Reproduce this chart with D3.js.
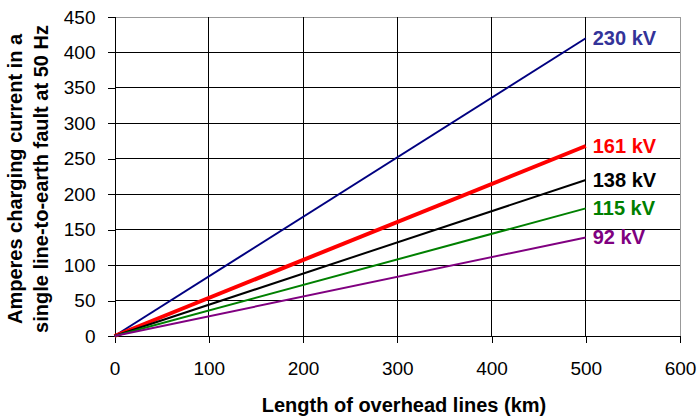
<!DOCTYPE html>
<html><head><meta charset="utf-8">
<script src="https://cdn.jsdelivr.net/npm/d3@7"></script>
<style>body{margin:0;background:#fff}svg{display:block}text{font-family:"Liberation Sans",Arial,sans-serif}</style>
</head><body><svg id="c" width="699" height="417"></svg>
<script>
const seriesNames = ["230 kV", "161 kV", "138 kV", "115 kV", "92 kV"];
const lengths = [0, 500];
const values230 = [0, 420];
const values161 = [0, 268];
const values138 = [0, 220];
const values115 = [0, 180];
const values92 = [0, 139];
const colors = ["#000080", "#FF0000", "#000000", "#008000", "#800080"];
const labelColors = ["#333399", "#FF0000", "#000000", "#008000", "#800080"];
const widths = [2, 4, 2, 2, 2];
const xTicks = [0, 100, 200, 300, 400, 500, 600];
const yTicks = [0, 50, 100, 150, 200, 250, 300, 350, 400, 450];
const allValues = [values230, values161, values138, values115, values92];

const svg = d3.select("#c");
const L = 114.5, R = 680, T = 17, B = 336;
const x = d3.scaleLinear().domain([0, 600]).range([L, R]);
const y = d3.scaleLinear().domain([0, 450]).range([B, T]);

// gridlines
svg.append("g").selectAll("line").data(yTicks.slice(1)).join("line")
  .attr("x1", L).attr("x2", R).attr("y1", d => y(d)).attr("y2", d => y(d))
  .attr("stroke", d => d === 450 ? "#999" : "#000").attr("stroke-width", 1).attr("shape-rendering", "crispEdges");
svg.append("g").selectAll("line").data(xTicks.slice(1)).join("line")
  .attr("y1", T).attr("y2", B).attr("x1", d => x(d)).attr("x2", d => x(d))
  .attr("stroke", d => d === 600 ? "#999" : "#000").attr("stroke-width", 1).attr("shape-rendering", "crispEdges");

// axes
const ya = d3.axisLeft(y).tickValues(yTicks).tickSize(7).tickPadding(12);
const gy = svg.append("g").attr("transform", `translate(${L},0)`).call(ya);
const xa = d3.axisBottom(x).tickValues(xTicks).tickSize(7).tickPadding(19);
const gx = svg.append("g").attr("transform", `translate(0,${B})`).call(xa);
[gy, gx].forEach(g => {
  g.selectAll("path.domain").attr("stroke", "#000").attr("shape-rendering", "crispEdges");
  g.selectAll(".tick line").attr("stroke", "#000").attr("shape-rendering", "crispEdges");
  g.selectAll("text").attr("font-size", 19).attr("fill", "#000").style("font-family", '"Liberation Sans",Arial,sans-serif');
});

// lines
const line = d3.line().x((d, i) => x(lengths[i])).y(d => y(d));
allValues.forEach((vals, i) => {
  svg.append("path").datum(vals).attr("d", line).attr("fill", "none")
    .attr("stroke", colors[i]).attr("stroke-width", widths[i]);
  svg.append("text").attr("x", x(lengths[1]) + 7).attr("y", y(vals[1]) + 6.5)
    .attr("font-size", 20).attr("font-weight", "bold").attr("fill", labelColors[i])
    .text(seriesNames[i]);
});

// titles
svg.append("text").attr("x", 404).attr("y", 411.5).attr("text-anchor", "middle")
  .attr("font-size", 20).attr("font-weight", "bold").text("Length of overhead lines (km)");
const yt = svg.append("text").attr("transform", `translate(22,179) rotate(-90)`)
  .attr("text-anchor", "middle").attr("font-size", 20).attr("font-weight", "bold");
yt.append("tspan").attr("x", 0).attr("dy", 0).text("Amperes charging current in a");
yt.append("tspan").attr("x", 0).attr("dy", 26).text("single line-to-earth fault at 50 Hz");
</script></body></html>
